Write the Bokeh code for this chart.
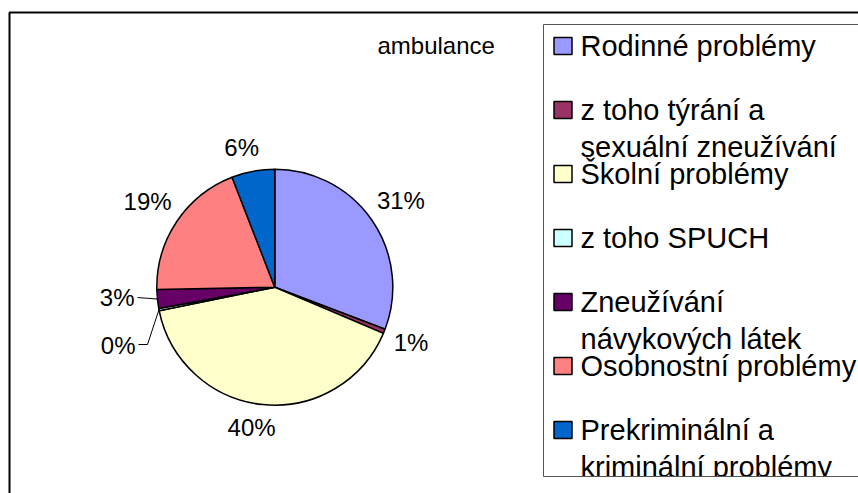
import numpy as np
from bokeh.plotting import figure
from bokeh.models import Range1d
from bokeh.core.properties import value
from bokeh.embed import file_html
from bokeh.resources import INLINE

# ---------------- data ----------------
title_text = "ambulance"
categories = [
    "Rodinné problémy",
    "z toho týrání a\nsexuální zneužívání",
    "Školní problémy",
    "z toho SPUCH",
    "Zneužívání\nnávykových látek",
    "Osobnostní problémy",
    "Prekriminální a\nkriminální problémy",
]
shares = [30.8, 0.6, 40.4, 0.3, 2.6, 19.4, 5.9]
colors = ["#9999FF", "#993366", "#FFFFCC", "#CCFFFF", "#660066", "#FF8080", "#0066CC"]

# ---------------- layout ----------------
W, H = 858, 493
FONT = value("Liberation Sans")


def Y(py):
    """page y (pixels from top) -> plot y"""
    return H - py


CX, CY, R = 274.3, 286.7, 118.0
LABEL_FS = 24
LEG_FS = 29
GAP = 8
# labels that Excel moved away with leader lines: index -> (text right x, text centre y, elbow points)
leader_labels = {
    4: dict(tx=134, ty=297, px=[137], py=[297]),
    3: dict(tx=135, ty=345, px=[138, 147], py=[344, 344]),
}
label_nudge = {2: (-9, 0), 6: (-7, 0)}

p = figure(width=W, height=H, x_range=Range1d(0, W), y_range=Range1d(0, H),
           output_backend="svg", toolbar_location=None, min_border=0,
           x_axis_location=None, y_axis_location=None)
p.xgrid.visible = False
p.ygrid.visible = False
p.outline_line_color = None
p.background_fill_color = "white"
p.border_fill_color = "white"

# outer chart border
p.quad(left=[9], right=[900], top=[Y(12)], bottom=[Y(530)], fill_color=None,
       line_color="black", line_width=2)

# ---------------- pie ----------------
vals = np.array(shares, dtype=float)
frac = vals / vals.sum()
cum = np.concatenate([[0.0], np.cumsum(frac)])
start = np.pi / 2 - 2 * np.pi * cum[:-1]
end = np.pi / 2 - 2 * np.pi * cum[1:]
p.wedge(x=CX, y=Y(CY), radius=R, radius_units="screen", start_angle=start, end_angle=end,
        direction="clock", fill_color=colors, line_color="black", line_width=1.5)

# ---------------- data labels ----------------
pct = [f"{round(f * 100):.0f}%" for f in frac]
mid = (cum[:-1] + cum[1:]) / 2 * 2 * np.pi  # clockwise from 12 o'clock
lx, ly, lt, la = [], [], [], []
for i, (m, t) in enumerate(zip(mid, pct)):
    dx, dy = np.sin(m), -np.cos(m)
    if i in leader_labels:
        d = leader_labels[i]
        rim_x, rim_y = CX + R * dx, CY + R * dy
        xs = d["px"] + [rim_x]
        ys = [Y(v) for v in d["py"]] + [Y(rim_y)]
        p.line(xs, ys, line_color="black", line_width=1)
        lx.append(d["tx"]); ly.append(Y(d["ty"])); lt.append(t); la.append("right")
        continue
    w = LABEL_FS * (0.556 * (len(t) - 1) + 0.889)
    proj = abs(dx) * w / 2 + abs(dy) * 13
    dist = R + GAP + proj
    nx, ny = label_nudge.get(i, (0, 0))
    x, y = CX + dx * dist + nx, CY + dy * dist + ny
    lx.append(x); ly.append(Y(y)); lt.append(t); la.append("center")
p.text(x=lx, y=ly, text=lt, text_align=la, text_baseline="middle",
       text_font=FONT, text_font_size=f"{LABEL_FS}px", text_color="black")

# title
p.text(x=[377], y=[Y(44.5)], text=[title_text], text_align="left", text_baseline="middle",
       text_font=FONT, text_font_size="24px", text_color="black")

# ---------------- legend ----------------
LEG_L, LEG_T, LEG_B = 543, 24, 476
ROW0, ROW_STEP, LINE_STEP = 45.5, 64.0, 36.5
tx, ty, tt = [], [], []
sq_l, sq_r, sq_t, sq_b = [], [], [], []
for i, cat in enumerate(categories):
    c = ROW0 + i * ROW_STEP
    for j, line in enumerate(cat.split("\n")):
        tx.append(580); ty.append(Y(c + j * LINE_STEP)); tt.append(line)
    sq_l.append(553.5); sq_r.append(571.5); sq_t.append(Y(c - 8.5)); sq_b.append(Y(c + 8.5))
p.text(x=tx, y=ty, text=tt, text_align="left", text_baseline="middle",
       text_font=FONT, text_font_size=f"{LEG_FS}px", text_color="black")
p.quad(left=sq_l, right=sq_r, top=sq_t, bottom=sq_b, fill_color=colors,
       line_color="black", line_width=1.5)
# clip legend text at the legend box bottom
p.quad(left=[LEG_L + 1], right=[900], top=[Y(LEG_B)], bottom=[Y(520)], fill_color="white",
       line_color=None)
p.quad(left=[LEG_L], right=[900], top=[Y(LEG_T)], bottom=[Y(LEG_B)], fill_color=None,
       line_color="#555555", line_width=1)

open("out.html", "w").write(file_html(p, INLINE))
